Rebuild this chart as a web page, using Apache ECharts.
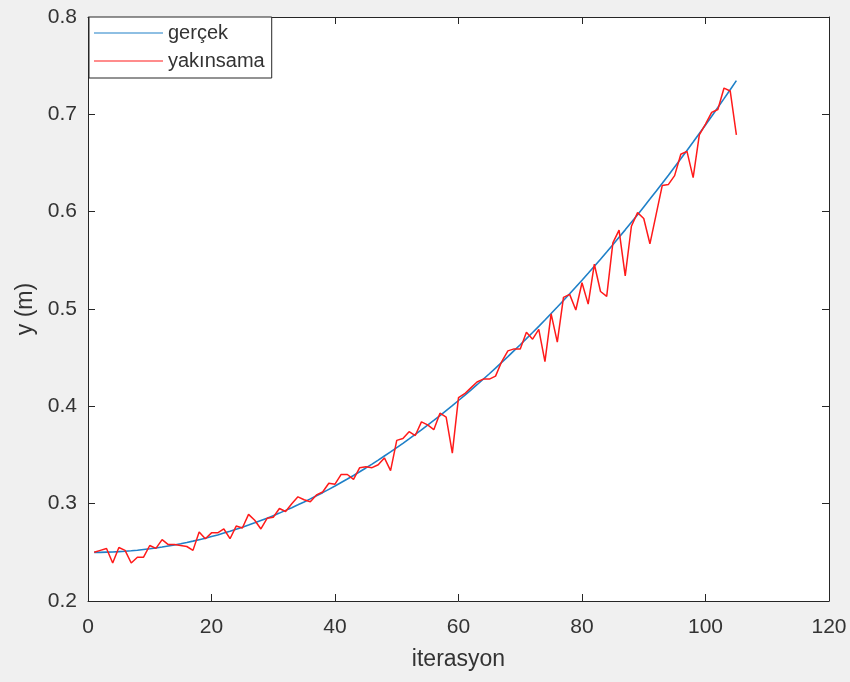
<!DOCTYPE html>
<html>
<head>
<meta charset="utf-8">
<script src="https://cdn.jsdelivr.net/npm/echarts@6/dist/echarts.min.js"></script>
<style>
html,body{margin:0;padding:0;background:#f0f0f0;}
#c{width:850px;height:682px;}
</style>
</head>
<body>
<div id="c"></div>
<script>
// iteration numbers are 1..105 (index + 1)
const gercek = [
0.2500,0.2500,0.2502,0.2504,0.2507,0.2511,0.2516,0.2522,0.2529,0.2536,
0.2545,0.2554,0.2565,0.2576,0.2588,0.2601,0.2615,0.2630,0.2645,0.2662,
0.2679,0.2698,0.2717,0.2737,0.2758,0.2780,0.2803,0.2827,0.2851,0.2877,
0.2903,0.2931,0.2959,0.2988,0.3018,0.3049,0.3081,0.3113,0.3147,0.3181,
0.3217,0.3253,0.3290,0.3328,0.3367,0.3407,0.3448,0.3490,0.3532,0.3576,
0.3620,0.3665,0.3711,0.3758,0.3806,0.3855,0.3905,0.3956,0.4007,0.4060,
0.4113,0.4167,0.4222,0.4278,0.4335,0.4393,0.4452,0.4511,0.4572,0.4633,
0.4695,0.4758,0.4822,0.4887,0.4953,0.5020,0.5088,0.5156,0.5226,0.5296,
0.5367,0.5439,0.5512,0.5586,0.5661,0.5737,0.5813,0.5891,0.5969,0.6049,
0.6129,0.6210,0.6292,0.6375,0.6459,0.6543,0.6629,0.6715,0.6803,0.6891,
0.6980,0.7070,0.7161,0.7253,0.7346
];
const yakinsama = [
0.250,0.252,0.254,0.239,0.255,0.252,0.239,0.245,0.245,0.257,
0.254,0.263,0.258,0.258,0.257,0.256,0.252,0.271,0.264,0.270,
0.270,0.274,0.264,0.277,0.275,0.289,0.283,0.274,0.285,0.286,
0.295,0.292,0.300,0.307,0.304,0.302,0.309,0.312,0.321,0.320,
0.330,0.330,0.325,0.337,0.338,0.337,0.340,0.347,0.334,0.365,
0.367,0.374,0.370,0.384,0.381,0.376,0.393,0.389,0.352,0.409,
0.413,0.419,0.425,0.428,0.428,0.431,0.446,0.457,0.459,0.459,
0.476,0.469,0.479,0.446,0.495,0.466,0.512,0.515,0.499,0.527,
0.505,0.546,0.518,0.513,0.568,0.581,0.534,0.585,0.599,0.593,
0.567,0.597,0.627,0.628,0.637,0.659,0.662,0.635,0.679,0.690,
0.702,0.705,0.727,0.724,0.679
];
const seriesNames = ['gerçek','yakınsama'];
const xTicks = {min:0, max:120, interval:20};
const yTicks = {min:0.2, max:0.8, interval:0.1};

const toPairs = arr => arr.map((v,i)=>[i+1, v]);
const axisCol = '#262626';
const textCol = '#333333';
const font = 'Liberation Sans, Arial, Helvetica, sans-serif';
const blue = '#1f80c8';
const red = '#ff1a1a';

const chart = echarts.init(document.getElementById('c'), null, {renderer:'canvas'});
chart.setOption({
  backgroundColor:'#f0f0f0',
  animation:false,
  grid:{left:88, top:17, right:21, bottom:81, show:true, backgroundColor:'#ffffff', borderWidth:0},
  legend:{
    left:89, top:17, orient:'vertical',
    backgroundColor:'#ffffff', borderColor:axisCol, borderWidth:1,
    padding:[6,7,7,5], itemGap:8, itemWidth:69, itemHeight:14,
    textStyle:{fontFamily:font, fontSize:20, color:textCol, lineHeight:20},
    data:[{name:seriesNames[0], icon:'path://M0,6.5 L69,6.5 L69,7.5 L0,7.5 Z'},
          {name:seriesNames[1], icon:'path://M0,6.5 L69,6.5 L69,7.5 L0,7.5 Z'}]
  },
  xAxis:[{
    type:'value', min:xTicks.min, max:xTicks.max, interval:xTicks.interval,
    name:'iterasyon', nameLocation:'middle', nameGap:47,
    nameTextStyle:{fontFamily:font, fontSize:23, color:textCol},
    axisLine:{show:true, lineStyle:{color:axisCol, width:1}},
    axisTick:{show:true, inside:true, length:7, lineStyle:{color:axisCol}},
    axisLabel:{fontFamily:font, fontSize:21, color:textCol, margin:16},
    splitLine:{show:false}
  },{
    type:'value', position:'top', min:xTicks.min, max:xTicks.max, interval:xTicks.interval,
    axisLine:{show:true, onZero:false, lineStyle:{color:axisCol, width:1}},
    axisTick:{show:true, inside:true, length:7, lineStyle:{color:axisCol}},
    axisLabel:{show:false}, splitLine:{show:false}
  }],
  yAxis:[{
    type:'value', min:yTicks.min, max:yTicks.max, interval:yTicks.interval,
    name:'y (m)', nameLocation:'middle', nameGap:49,
    nameTextStyle:{fontFamily:font, fontSize:23, color:textCol},
    axisLine:{show:true, lineStyle:{color:axisCol, width:1}},
    axisTick:{show:true, inside:true, length:7, lineStyle:{color:axisCol}},
    axisLabel:{fontFamily:font, fontSize:21, color:textCol, margin:11,
      formatter:v=>(Math.round(v*10)/10).toFixed(1)},
    splitLine:{show:false}
  },{
    type:'value', position:'right', min:yTicks.min, max:yTicks.max, interval:yTicks.interval,
    axisLine:{show:true, onZero:false, lineStyle:{color:axisCol, width:1}},
    axisTick:{show:true, inside:true, length:7, lineStyle:{color:axisCol}},
    axisLabel:{show:false}, splitLine:{show:false}
  }],
  series:[
    {name:seriesNames[0], type:'line', data:toPairs(gercek), showSymbol:false, symbol:'none',
     itemStyle:{color:blue}, lineStyle:{color:blue, width:1.6}, z:2},
    {name:seriesNames[1], type:'line', data:toPairs(yakinsama), showSymbol:false, symbol:'none',
     itemStyle:{color:red}, lineStyle:{color:red, width:1.5}, z:3}
  ]
});
</script>
</body>
</html>
